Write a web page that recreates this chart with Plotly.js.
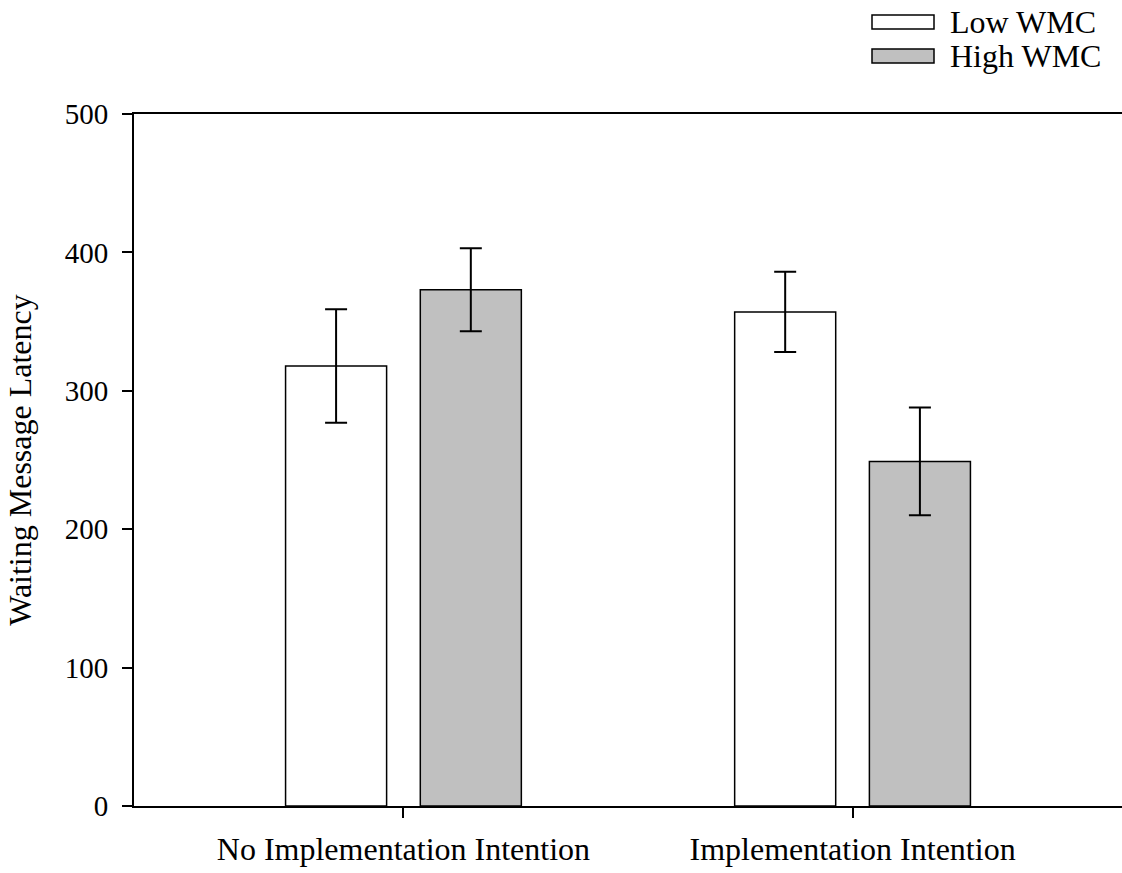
<!DOCTYPE html>
<html>
<head>
<meta charset="utf-8">
<script src="https://cdn.plot.ly/plotly-3.0.1.min.js"></script>
<style>html,body{margin:0;padding:0;background:#fff;}#chart{width:1122px;height:873px;}</style>
</head>
<body>
<div id="chart"></div>
<script>
const categories = ["No Implementation Intention", "Implementation Intention"];
const seriesNames = ["Low WMC", "High WMC"];
const lowWMC = [318, 357];
const lowWMCErr = [41, 29];
const highWMC = [373, 249];
const highWMCErr = [30, 39];
const yTicks = [0, 100, 200, 300, 400, 500];
const fills = ["#ffffff", "#c0c0c0"];

const W = 1122, H = 873;
const M = {l: 134, r: 0, t: 114, b: 67};
const pw = W - M.l - M.r, ph = H - M.t - M.b;
const px2x = p => (p - M.l) / pw;
const py2y = p => (H - M.b - p) / ph;
const font = "Liberation Serif, Times New Roman, serif";
const FS = 32;

function barTrace(name, y, err, fill) {
  return {
    type: "bar", name: name, x: categories, y: y,
    marker: {color: fill, line: {color: "#000", width: 1.5}},
    error_y: {type: "data", array: err, visible: true, color: "#000", thickness: 2, width: 11},
    showlegend: false, hoverinfo: "none"
  };
}
const data = [
  barTrace(seriesNames[0], lowWMC, lowWMCErr, fills[0]),
  barTrace(seriesNames[1], highWMC, highWMCErr, fills[1])
];

const shapes = [], annotations = [];
const legendRows = [22, 56];
seriesNames.forEach((n, i) => {
  const cy = legendRows[i];
  shapes.push({type: "rect", xref: "paper", yref: "paper",
    x0: px2x(872), x1: px2x(934), y0: py2y(cy + 7), y1: py2y(cy - 7),
    line: {color: "#000", width: 1.5}, fillcolor: fills[i]});
  annotations.push({xref: "paper", yref: "paper", x: px2x(948), y: py2y(cy),
    xanchor: "left", yanchor: "middle", text: n, showarrow: false,
    font: {family: font, size: FS, color: "#000"}});
});

const layout = {
  width: W, height: H,
  margin: M,
  paper_bgcolor: "#fff", plot_bgcolor: "#fff",
  font: {family: font, size: FS, color: "#000"},
  barmode: "group", bargap: 0.4, bargroupgap: 0.25,
  xaxis: {
    type: "category", range: [-0.6, 1.6],
    showline: true, linecolor: "#000", linewidth: 2, mirror: true,
    ticks: "outside", ticklen: 10, tickwidth: 2, tickcolor: "#000",
    showgrid: false, zeroline: false, ticklabelstandoff: 4,
    tickfont: {family: font, size: FS, color: "#000"}
  },
  yaxis: {
    range: [0, 500], tickvals: yTicks, ticktext: yTicks.map(String),
    showline: true, linecolor: "#000", linewidth: 2,
    ticks: "outside", ticklen: 10, tickwidth: 2, tickcolor: "#000",
    showgrid: false, zeroline: false, ticklabelstandoff: 8,
    tickfont: {family: font, size: 29, color: "#000"},
    title: {text: "Waiting Message Latency", font: {family: font, size: FS, color: "#000"}, standoff: 24}
  },
  shapes: shapes, annotations: annotations
};
Plotly.newPlot("chart", data, layout, {staticPlot: true, displayModeBar: false});
</script>
</body>
</html>
